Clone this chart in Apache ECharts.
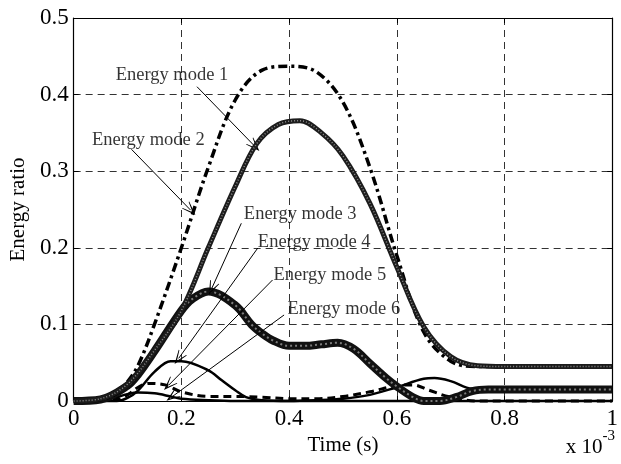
<!DOCTYPE html>
<html>
<head>
<meta charset="utf-8">
<script src="https://cdn.jsdelivr.net/npm/echarts@6/dist/echarts.min.js"></script>
<style>
  html, body { margin: 0; padding: 0; background: #fff; }
  #chart { width: 621px; height: 464px; }
</style>
</head>
<body>
<div id="chart"></div>
<script>
// Energy ratio of each mode versus time (time in units of 1e-3 s)
const xTickLabels = ['0', '0.2', '0.4', '0.6', '0.8', '1'];
const yTickLabels = ['0', '0.1', '0.2', '0.3', '0.4', '0.5'];

// [time, energy ratio]
const mode1 = [[0,0],[0.05,0.003],[0.1,0.022],[0.15,0.066],[0.2,0.118],[0.25,0.2],[0.3,0.28],[0.34,0.336],[0.38,0.361],[0.42,0.366],[0.46,0.35],[0.5,0.32],[0.55,0.258],[0.6,0.175],[0.65,0.097],[0.7,0.058],[0.75,0.046],[0.8,0.045],[1,0.045]];
const mode2 = [[0,0],[0.05,0.002],[0.08,0.01],[0.1,0.025],[0.12,0.047],[0.15,0.1],[0.2,0.2],[0.25,0.305],[0.3,0.393],[0.35,0.432],[0.4,0.437],[0.45,0.43],[0.5,0.39],[0.55,0.305],[0.6,0.19],[0.65,0.09],[0.7,0.052],[0.75,0.045],[1,0.045]];
const mode3 = [[0,0],[0.05,0.002],[0.1,0.02],[0.12,0.035],[0.15,0.065],[0.2,0.118],[0.22,0.133],[0.25,0.143],[0.3,0.125],[0.33,0.1],[0.35,0.088],[0.37,0.079],[0.4,0.072],[0.43,0.072],[0.46,0.074],[0.49,0.076],[0.52,0.068],[0.55,0.049],[0.58,0.03],[0.6,0.019],[0.63,0.005],[0.65,0],[0.68,0],[0.71,0.005],[0.74,0.013],[0.77,0.015],[1,0.015]];
const mode4 = [[0,0],[0.08,0],[0.1,0.004],[0.12,0.014],[0.15,0.038],[0.18,0.052],[0.2,0.052],[0.25,0.04],[0.275,0.027],[0.3,0.014],[0.32,0.005],[0.35,0.001],[0.4,0],[0.45,0.001],[0.5,0.003],[0.55,0.008],[0.6,0.018],[0.65,0.029],[0.67,0.03],[0.7,0.026],[0.74,0.016],[0.8,0.015],[1,0.015]];
const mode5 = [[0,0],[0.08,0.002],[0.1,0.008],[0.12,0.018],[0.14,0.023],[0.17,0.021],[0.2,0.012],[0.25,0.006],[0.3,0.006],[0.35,0.005],[0.4,0.003],[0.45,0.003],[0.5,0.006],[0.55,0.012],[0.6,0.02],[0.63,0.021],[0.66,0.014],[0.7,0.005],[0.75,0],[1,0]];
const mode6 = [[0,0],[0.05,0.001],[0.08,0.005],[0.1,0.009],[0.12,0.011],[0.15,0.01],[0.18,0.006],[0.2,0.003],[0.25,0.001],[0.3,0],[1,0]];

// Annotation text anchors (left edge, middle) and arrows [from, to]
const noteNames = ['Energy mode 1', 'Energy mode 2', 'Energy mode 3', 'Energy mode 4', 'Energy mode 5', 'Energy mode 6'];
const noteAnchors = [[0.078,0.4256],[0.034,0.3407],[0.316,0.244],[0.342,0.208],[0.371,0.1638],[0.397,0.1195]];
const noteArrows = [
  [[0.229,0.4103],[0.3358,0.3329]],
  [[0.1073,0.3286],[0.217,0.2493]],
  [[0.3113,0.232],[0.2565,0.1471]],
  [[0.3419,0.1997],[0.195,0.0557]],
  [[0.3693,0.158],[0.1768,0.0209]],
  [[0.3907,0.1123],[0.1828,0.0056]]
];

const FONT = '"Liberation Serif", "Times New Roman", serif';
const arrowHead = 'path://M0,0 L6,14 L5,14 L0,4 L-5,14 L-6,14 Z';

function curve(data, style, z) {
  return {
    type: 'line', data: data, smooth: 0.35, showSymbol: false, clip: false,
    z: z || 2, lineStyle: Object.assign({ color: '#000', cap: 'butt', join: 'round' }, style),
    silent: true
  };
}

const chart = echarts.init(document.getElementById('chart'), null, { renderer: 'canvas' });

const gridLine = { show: true, lineStyle: { color: '#333', width: 1, type: [7, 5] } };

chart.setOption({
  animation: false,
  backgroundColor: '#fff',
  grid: { left: 73, right: 1, top: 18, bottom: 63 },
  xAxis: [{
    type: 'value', min: 0, max: 1, interval: 0.2,
    name: 'Time (s)', nameLocation: 'middle', nameGap: 23,
    nameTextStyle: { fontFamily: FONT, fontSize: 21, color: '#000' },
    axisLine: { show: true, onZero: false, lineStyle: { color: '#000', width: 1.2 } },
    axisTick: { show: true, inside: true, length: 5, lineStyle: { color: '#000' } },
    axisLabel: { fontFamily: FONT, fontSize: 23, color: '#000', margin: 6,
      formatter: (v, i) => xTickLabels[i] },
    splitLine: gridLine
  }, {
    type: 'value', min: 0, max: 1, interval: 0.2, position: 'top',
    axisLine: { show: true, onZero: false, lineStyle: { color: '#000', width: 1.2 } },
    axisTick: { show: true, inside: true, length: 5, lineStyle: { color: '#000' } },
    axisLabel: { show: false }, splitLine: { show: false }
  }],
  yAxis: [{
    type: 'value', min: 0, max: 0.5, interval: 0.1,
    name: 'Energy ratio', nameLocation: 'middle', nameGap: 40, nameRotate: 90,
    nameTextStyle: { fontFamily: FONT, fontSize: 21, color: '#000' },
    axisLine: { show: true, onZero: false, lineStyle: { color: '#000', width: 1.2 } },
    axisTick: { show: true, inside: true, length: 5, lineStyle: { color: '#000' } },
    axisLabel: { fontFamily: FONT, fontSize: 23, color: '#000', margin: 5,
      formatter: (v, i) => yTickLabels[i] },
    splitLine: gridLine
  }, {
    type: 'value', min: 0, max: 0.5, interval: 0.1, position: 'right',
    axisLine: { show: true, onZero: false, lineStyle: { color: '#000', width: 1.2 } },
    axisTick: { show: true, inside: true, length: 5, lineStyle: { color: '#000' } },
    axisLabel: { show: false }, splitLine: { show: false }
  }],
  series: [
    curve(mode6, { width: 2.5 }),
    curve(mode5, { width: 3, type: [8, 5] }),
    curve(mode4, { width: 2.5 }),
    curve(mode3, { width: 8, color: '#111' }, 3),
    curve(mode3, { width: 2, color: 'rgba(255,255,255,0.45)', type: [2, 3] }, 4),
    curve(mode2, { width: 3.5, type: [9, 4, 3, 4] }, 5),
    curve(mode1, { width: 5, color: '#1c1c1c' }, 6),
    curve(mode1, { width: 1.5, color: 'rgba(255,255,255,0.5)', type: [1, 2] }, 7),
    {
      type: 'scatter', z: 10, silent: true, symbolSize: 0,
      data: noteAnchors.map((p, i) => [p[0], p[1], noteNames[i]]),
      label: {
        show: true, position: 'right', distance: 0,
        fontFamily: FONT, fontSize: 18.5, color: '#000',
        formatter: p => p.value[2]
      },
      markLine: {
        silent: true, animation: false,
        symbol: ['none', arrowHead], symbolSize: [10, 14],
        lineStyle: { color: '#000', width: 1, type: 'solid' },
        label: { show: false },
        data: noteArrows.map(a => [
          { coord: a[0], symbol: 'none' },
          { coord: a[1] }
        ])
      }
    }
  ],
  graphic: [{
    type: 'text', right: 6, bottom: 6, z: 20,
    style: {
      text: '{b|x 10}{s|-3}', fontFamily: FONT, fill: '#000',
      rich: {
        b: { fontFamily: FONT, fontSize: 21, fill: '#000', verticalAlign: 'bottom' },
        s: { fontFamily: FONT, fontSize: 15, fill: '#000', padding: [0, 0, 14, 0], verticalAlign: 'bottom' }
      }
    }
  }]
});
</script>
</body>
</html>
